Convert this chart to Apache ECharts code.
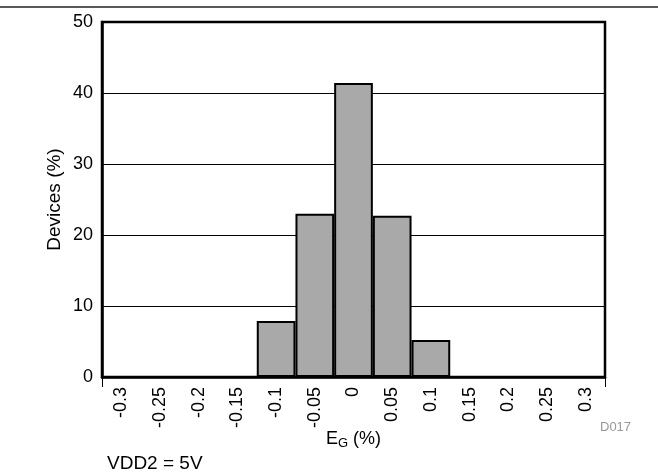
<!DOCTYPE html>
<html>
<head>
<meta charset="utf-8">
<script src="https://cdn.jsdelivr.net/npm/echarts@6/dist/echarts.min.js"></script>
<style>
html,body{margin:0;padding:0;background:#fff;}
#c{width:658px;height:472px;}
</style>
</head>
<body>
<div id="c"></div>
<script>
const categories = ['-0.3','-0.25','-0.2','-0.15','-0.1','-0.05','0','0.05','0.1','0.15','0.2','0.25','0.3'];
const devices = [0,0,0,0,7.9,23.0,41.4,22.7,5.2,0,0,0,0];
const yTicks = [0,10,20,30,40,50];

const FONT = 'Liberation Sans, Arial, sans-serif';
const chart = echarts.init(document.getElementById('c'), null, {renderer:'canvas'});
chart.setOption({
  animation:false,
  backgroundColor:'#fff',
  grid:{left:102, right:53, top:22, bottom:95, show:true, borderColor:'#000', borderWidth:2.5, backgroundColor:'transparent'},
  xAxis:{
    type:'category', data:categories, boundaryGap:true,
    axisLine:{show:true, lineStyle:{color:'#000', width:2.5}},
    axisTick:{show:true, length:10, interval:function(i){return i===0;}, lineStyle:{color:'#000', width:1}},
    axisLabel:{rotate:90, margin:10, fontSize:18, fontFamily:FONT, color:'#000', interval:0},
    name:'E{s|G} (%)', nameLocation:'middle', nameGap:52, nameMoveOverlap:false,
    nameTextStyle:{fontSize:18, fontFamily:FONT, color:'#000', rich:{s:{fontSize:13, fontFamily:FONT, color:'#000', padding:[8,0,0,0]}}}
  },
  yAxis:{
    type:'value', min:yTicks[0], max:yTicks[yTicks.length-1], interval:10,
    axisLine:{show:true, lineStyle:{color:'#000', width:2.5}},
    axisTick:{show:false},
    axisLabel:{margin:9, fontSize:18, fontFamily:FONT, color:'#000'},
    splitLine:{show:true, lineStyle:{color:'#000', width:1}},
    name:'Devices (%)', nameLocation:'middle', nameGap:38, nameMoveOverlap:false,
    nameTextStyle:{fontSize:19, fontFamily:FONT, color:'#000'}
  },
  series:[{
    type:'bar', data:devices, barWidth:'100%', barGap:'0%', barCategoryGap:'0%',
    itemStyle:{color:'#a9a9a9', borderColor:'#000', borderWidth:2}
  }],
  graphic:[
    {type:'line', shape:{x1:0,y1:7,x2:658,y2:7}, style:{stroke:'#222', lineWidth:1.5}},
    {type:'text', left:600, top:421, style:{text:'D017', fontSize:13, fontFamily:FONT, fill:'#999'}},
    {type:'text', left:107, top:454, style:{text:'VDD2 = 5V', fontSize:19, fontFamily:FONT, fill:'#000'}}
  ]
});
</script>
</body>
</html>
